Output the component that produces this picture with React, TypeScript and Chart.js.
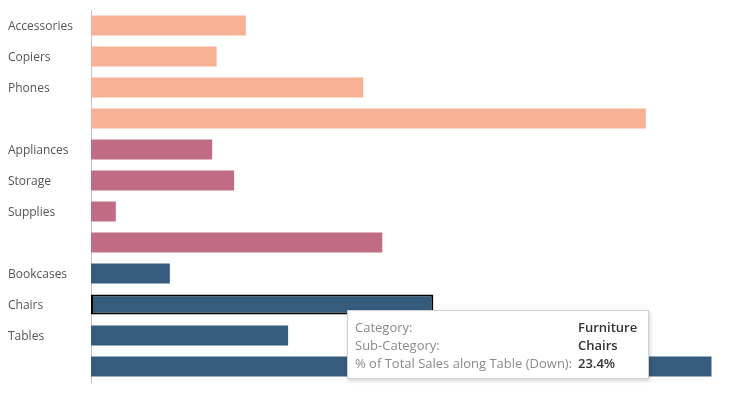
import React, { useEffect, useRef } from "react";
import { Chart, registerables } from "chart.js";

Chart.register(...registerables);

const categories = ["Technology", "Technology", "Technology", "Technology", "Office Supplies", "Office Supplies", "Office Supplies", "Office Supplies", "Furniture", "Furniture", "Furniture", "Furniture"];
const subCategories = ["Accessories", "Copiers", "Phones", "", "Appliances", "Storage", "Supplies", "", "Bookcases", "Chairs", "Tables", ""];
const pctOfTotal = [10.6, 8.6, 18.65, 38.0, 8.3, 9.8, 1.7, 19.95, 5.4, 23.45, 13.5, 42.5];
const categoryColors: Record<string, string> = {
  Technology: "#f8b195",
  "Office Supplies": "#c06c84",
  Furniture: "#355c7d",
};
const highlighted = "Chairs";

const tooltipRows = [
  ["Category:", "Furniture"],
  ["Sub-Category:", "Chairs"],
  ["% of Total Sales along Table (Down):", "23.4%"],
];

const FONT = "'Open Sans', 'DejaVu Sans', sans-serif";

export default function App() {
  const ref = useRef<HTMLCanvasElement | null>(null);

  useEffect(() => {
    document.body.style.margin = "0";
    const canvas = ref.current;
    if (!canvas) return;
    const chart = new Chart(canvas, {
      type: "bar",
      data: {
        labels: subCategories,
        datasets: [
          {
            data: pctOfTotal,
            backgroundColor: categories.map((c) => categoryColors[c]),
            borderColor: subCategories.map((s) => (s === highlighted ? "#000000" : "rgba(0,0,0,0)")),
            borderWidth: subCategories.map((s) => (s === highlighted ? 2 : 0)),
            borderSkipped: false,
            barPercentage: 0.645,
            categoryPercentage: 1,
          },
        ],
      },
      options: {
        indexAxis: "y",
        animation: false,
        responsive: false,
        devicePixelRatio: 1,
        layout: { padding: { left: 8, right: 12.6, top: 10, bottom: 26 } },
        plugins: { legend: { display: false }, tooltip: { enabled: false } },
        scales: {
          x: { display: false, min: 0, max: 44 },
          y: {
            grid: { display: false },
            border: { display: true, color: "#c4c4c4", width: 1 },
            ticks: {
              crossAlign: "far",
              color: "#555555",
              font: { family: FONT, size: 12 },
              padding: 0,
              labelOffset: 1.5,
            },
            afterFit: (scale: any) => {
              scale.width = 83;
            },
          },
        },
      },
    });
    return () => chart.destroy();
  }, []);

  return (
    <div style={{ position: "relative", width: 746, height: 408 }}>
      <canvas ref={ref} width={746} height={408} style={{ width: 746, height: 408, display: "block" }} />
      <div
        style={{
          position: "absolute",
          left: 347,
          top: 310,
          width: 302,
          height: 69,
          boxSizing: "border-box",
          background: "#ffffff",
          border: "1px solid #d0d0d0",
          boxShadow: "1px 2px 4px rgba(0,0,0,0.18)",
          fontFamily: FONT,
          fontSize: 13,
        }}
      >
        {tooltipRows.map((r, i) => (
          <div key={i} style={{ position: "absolute", left: 7, top: 7 + i * 18, height: 18, lineHeight: "18px", whiteSpace: "nowrap" }}>
            <span style={{ color: "#8a8a8a" }}>{r[0]}</span>
            <span style={{ position: "absolute", left: 223, color: "#333333", fontWeight: 600 }}>{r[1]}</span>
          </div>
        ))}
      </div>
    </div>
  );
}
